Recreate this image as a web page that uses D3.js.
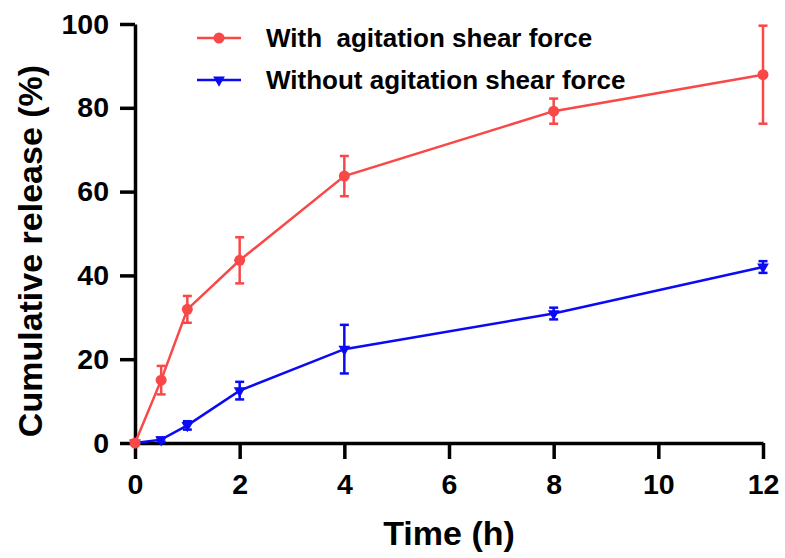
<!DOCTYPE html>
<html>
<head>
<meta charset="utf-8">
<script src="https://cdn.jsdelivr.net/npm/d3@7"></script>
<style>
  body { margin: 0; background: #fff; }
  svg { display: block; font-family: 'Liberation Sans', Arial, sans-serif; }
</style>
</head>
<body>
<svg id="chart"></svg>
<script>
// data
const times = [0, 0.5, 1, 2, 4, 8, 12];
const withMean = [0, 15.0, 31.9, 43.6, 63.7, 79.2, 87.9];
const withSd = [0, 3.4, 3.2, 5.5, 4.8, 3.0, 11.7];
const withoutMean = [0, 0.8, 4.2, 12.5, 22.4, 30.9, 42.0];
const withoutSd = [0, 0.5, 1.0, 2.1, 5.8, 1.4, 1.4];
const xTicks = [0, 2, 4, 6, 8, 10, 12];
const yTicks = [0, 20, 40, 60, 80, 100];
const seriesNames = ['With  agitation shear force', 'Without agitation shear force'];

const width = 785;
const height = 558;
const red = '#f94848';
const blue = '#0a0af5';

const svg = d3.select('#chart')
  .attr('width', width)
  .attr('height', height);

const margin = {left: 135, right: 22, top: 24, bottom: 115};
const innerW = width - margin.left - margin.right;
const innerH = height - margin.top - margin.bottom;

const g = svg.append('g')
  .attr('transform', `translate(${margin.left}, ${margin.top})`);

const xScale = d3.scaleLinear().domain([0, 12]).range([0, innerW]);
const yScale = d3.scaleLinear().domain([0, 100]).range([innerH, 0]);

const xAxis = d3.axisBottom(xScale)
  .tickValues(xTicks)
  .tickSize(16)
  .tickSizeOuter(0)
  .tickPadding(15);

const yAxis = d3.axisLeft(yScale)
  .tickValues(yTicks)
  .tickSize(15)
  .tickSizeOuter(0)
  .tickPadding(11);

const styleAxis = sel => {
  sel.selectAll('.domain, .tick line')
    .attr('stroke', '#000')
    .attr('stroke-width', 3.5);
  sel.selectAll('.tick text')
    .attr('fill', '#000')
    .attr('font-size', 28.5)
    .attr('font-weight', 'bold')
    .attr('font-family', "'Liberation Sans', Arial, sans-serif");
};

g.append('g')
  .attr('transform', `translate(0, ${innerH})`)
  .call(xAxis)
  .call(styleAxis);

g.append('g')
  .call(yAxis)
  .call(styleAxis);

// axis titles
svg.append('text')
  .attr('x', margin.left + innerW / 2)
  .attr('y', 545)
  .attr('text-anchor', 'middle')
  .attr('font-size', 34)
  .attr('font-weight', 'bold')
  .text('Time (h)');

svg.append('text')
  .attr('transform', 'translate(42, 251) rotate(-90)')
  .attr('text-anchor', 'middle')
  .attr('font-size', 34)
  .attr('font-weight', 'bold')
  .text('Cumulative release (%)');

const series = [
  {name: seriesNames[1], mean: withoutMean, sd: withoutSd, color: blue, symbol: 'tri'},
  {name: seriesNames[0], mean: withMean, sd: withSd, color: red, symbol: 'circle'},
];

const line = d3.line()
  .x(d => xScale(d.t))
  .y(d => yScale(d.m));

const triangle = d3.symbol().type(d3.symbolTriangle).size(60);
const capW = 4.5;

series.forEach(s => {
  const pts = times.map((t, i) => ({t, m: s.mean[i], sd: s.sd[i]}));
  const sg = g.append('g');

  // error bars
  const eb = sg.selectAll('g.err')
    .data(pts.filter(d => d.sd > 0))
    .join('g')
      .attr('stroke', s.color)
      .attr('stroke-width', 2.5);
  eb.append('line')
    .attr('x1', d => xScale(d.t)).attr('x2', d => xScale(d.t))
    .attr('y1', d => yScale(d.m + d.sd)).attr('y2', d => yScale(d.m - d.sd));
  eb.append('line')
    .attr('x1', d => xScale(d.t) - capW).attr('x2', d => xScale(d.t) + capW)
    .attr('y1', d => yScale(d.m + d.sd)).attr('y2', d => yScale(d.m + d.sd));
  eb.append('line')
    .attr('x1', d => xScale(d.t) - capW).attr('x2', d => xScale(d.t) + capW)
    .attr('y1', d => yScale(d.m - d.sd)).attr('y2', d => yScale(d.m - d.sd));

  sg.append('path')
    .datum(pts)
    .attr('fill', 'none')
    .attr('stroke', s.color)
    .attr('stroke-width', 2.5)
    .attr('d', line);

  if (s.symbol === 'circle') {
    sg.selectAll('circle')
      .data(pts)
      .join('circle')
        .attr('cx', d => xScale(d.t))
        .attr('cy', d => yScale(d.m))
        .attr('r', 5.5)
        .attr('fill', s.color);
  } else {
    sg.selectAll('path.mk')
      .data(pts)
      .join('path')
        .attr('class', 'mk')
        .attr('transform', d => `translate(${xScale(d.t)}, ${yScale(d.m)}) rotate(180)`)
        .attr('d', triangle)
        .attr('fill', s.color);
  }
});

// legend
const legend = svg.append('g');
const legendItems = [
  {name: seriesNames[0], color: red, symbol: 'circle', y: 38},
  {name: seriesNames[1], color: blue, symbol: 'tri', y: 80},
];
legendItems.forEach(d => {
  const lg = legend.append('g').attr('transform', `translate(0, ${d.y})`);
  lg.append('line')
    .attr('x1', 197).attr('x2', 241)
    .attr('stroke', d.color)
    .attr('stroke-width', 2.5);
  if (d.symbol === 'circle') {
    lg.append('circle').attr('cx', 219).attr('r', 5.5).attr('fill', d.color);
  } else {
    lg.append('path')
      .attr('transform', 'translate(219, 0) rotate(180)')
      .attr('d', triangle)
      .attr('fill', d.color);
  }
  lg.append('text')
    .attr('x', 266)
    .attr('y', 9)
    .attr('font-size', 26)
    .attr('font-weight', 'bold')
    .style('white-space', 'pre')
    .text(d.name);
});
</script>
</body>
</html>
